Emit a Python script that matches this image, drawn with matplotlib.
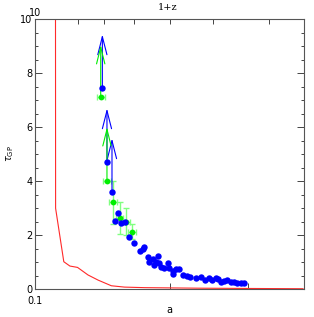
import numpy as np
import matplotlib
matplotlib.use("Agg")
import matplotlib.pyplot as plt
from matplotlib.ticker import FixedLocator, NullFormatter, MultipleLocator

plt.rcParams['font.family'] = 'DejaVu Sans'

# red model curve
red_a = [0.1111, 0.1112, 0.1160, 0.1197, 0.1245, 0.1314, 0.1384, 0.1482,
         0.1586, 0.1758, 0.2331, 0.2998, 0.398]
red_tau = [15.0, 2.99, 1.01, 0.85, 0.80, 0.52, 0.33, 0.12,
           0.07, 0.05, 0.03, 0.02, 0.01]

# blue points
blue_a = [0.1415, 0.1449, 0.1487, 0.1533, 0.1510, 0.1555, 0.1592, 0.1627,
          0.1664, 0.1719, 0.1743, 0.1758, 0.1788, 0.1804, 0.1835, 0.1851,
          0.1882, 0.1866, 0.1898, 0.1915, 0.1948, 0.1981, 0.1998, 0.2032,
          0.2068, 0.2104, 0.2040, 0.2140, 0.2184, 0.2222, 0.2292, 0.2351,
          0.2403, 0.2453, 0.2495, 0.2539, 0.2573, 0.2605, 0.2650, 0.2695,
          0.2742, 0.2789, 0.2836, 0.2887, 0.2936]
blue_tau = [7.43, 4.71, 3.58, 2.83, 2.51, 2.43, 2.49, 1.93,
            1.71, 1.42, 1.49, 1.54, 1.20, 1.01, 1.10, 0.89,
            1.22, 1.01, 0.95, 0.83, 0.77, 0.95, 0.77, 0.68,
            0.73, 0.73, 0.56, 0.52, 0.48, 0.43, 0.40, 0.43,
            0.33, 0.40, 0.33, 0.42, 0.36, 0.27, 0.31, 0.33,
            0.25, 0.27, 0.21, 0.21, 0.21]

# blue lower limits (arrows)
blue_lim_a = [0.1415, 0.1449, 0.1487]
blue_lim_tau = [7.43, 4.71, 3.58]
blue_lim_tip = [9.43, 6.69, 5.58]

# green points with errors
green_a = [0.1403, 0.1449, 0.1497, 0.1547, 0.1600, 0.1650]
green_tau = [7.12, 4.00, 3.21, 2.62, 2.50, 2.12]
green_yerr = [0.0, 0.0, 0.80, 0.60, 0.50, 0.28]
green_xerr = [0.0028, 0.0030, 0.0030, 0.0030, 0.0030, 0.0034]

green_lim_a = [0.1403, 0.1449]
green_lim_tau = [7.12, 4.00]
green_lim_tip = [9.04, 6.00]

W, H = 314, 317
fig = plt.figure(figsize=(W / 100, H / 100), dpi=100)
ax = fig.add_axes([35 / W, 28 / H, 269 / W, 270 / H])

ax.plot(red_a, red_tau, color='#ff2a2a', lw=0.8, zorder=2)

ax.errorbar(green_a, green_tau, yerr=green_yerr, xerr=green_xerr, fmt='none',
            ecolor='#80ff80', elinewidth=1.0, capsize=2, capthick=1.0, zorder=3)
ax.plot(green_a, green_tau, 'o', color='#00ee00', ms=4.2, mec='none', zorder=4)

for a, t0, t1 in zip(green_lim_a, green_lim_tau, green_lim_tip):
    ax.annotate('', xy=(a, t1), xytext=(a, t0),
                arrowprops=dict(arrowstyle='->,head_length=1.2,head_width=0.3',
                                color='#00ee00', lw=0.8, shrinkA=0, shrinkB=0),
                zorder=5)
for a, t0, t1 in zip(blue_lim_a, blue_lim_tau, blue_lim_tip):
    ax.annotate('', xy=(a, t1), xytext=(a, t0),
                arrowprops=dict(arrowstyle='->,head_length=1.3,head_width=0.33',
                                color='#0000ff', lw=0.8, shrinkA=0, shrinkB=0),
                zorder=4)

ax.plot(blue_a, blue_tau, 'o', color='#0000ff', ms=4.6, mec='none', zorder=6)

ax.set_xscale('log')
ax.set_xlim(0.1, 0.4)
ax.set_ylim(0, 10)

ax.xaxis.set_major_locator(FixedLocator([0.1]))
ax.xaxis.set_minor_locator(FixedLocator([0.2, 0.3]))
ax.xaxis.set_minor_formatter(NullFormatter())
ax.set_xticklabels(['0.1'])
ax.yaxis.set_major_locator(MultipleLocator(2))
ax.yaxis.set_minor_locator(MultipleLocator(0.5))

ax.tick_params(which='both', direction='in', right=True, top=False,
               labelsize=7, color='#444444', pad=2)
ax.tick_params(axis='x', which='major', pad=5)
ax.tick_params(which='major', length=5, width=0.7)
ax.tick_params(which='minor', length=2.5, width=0.7)
ax.tick_params(axis='x', which='minor', length=4)
for s in ax.spines.values():
    s.set_color('#555555')
    s.set_linewidth(0.8)

sec = ax.secondary_xaxis('top', functions=(lambda x: 1 / x, lambda x: 1 / x))
sec.xaxis.set_major_locator(FixedLocator([10, 9, 8, 7, 6, 5, 4, 3]))
sec.set_xticklabels(['10', '', '', '', '', '', '', ''])
sec.xaxis.set_minor_locator(FixedLocator([]))
sec.tick_params(direction='in', length=3.5, width=0.7, labelsize=7,
                color='#444444', pad=1)
sec.spines['top'].set_visible(False)

ax.set_xlabel('a', fontsize=7, labelpad=-1)
ax.set_ylabel(r'$\tau_{\rm GP}$', fontsize=7, labelpad=3)
fig.text(168 / W, 1 - 7 / H, '1+z', fontsize=7, ha='center', va='center',
         family='DejaVu Serif')

fig.savefig('out.png', dpi=100)
